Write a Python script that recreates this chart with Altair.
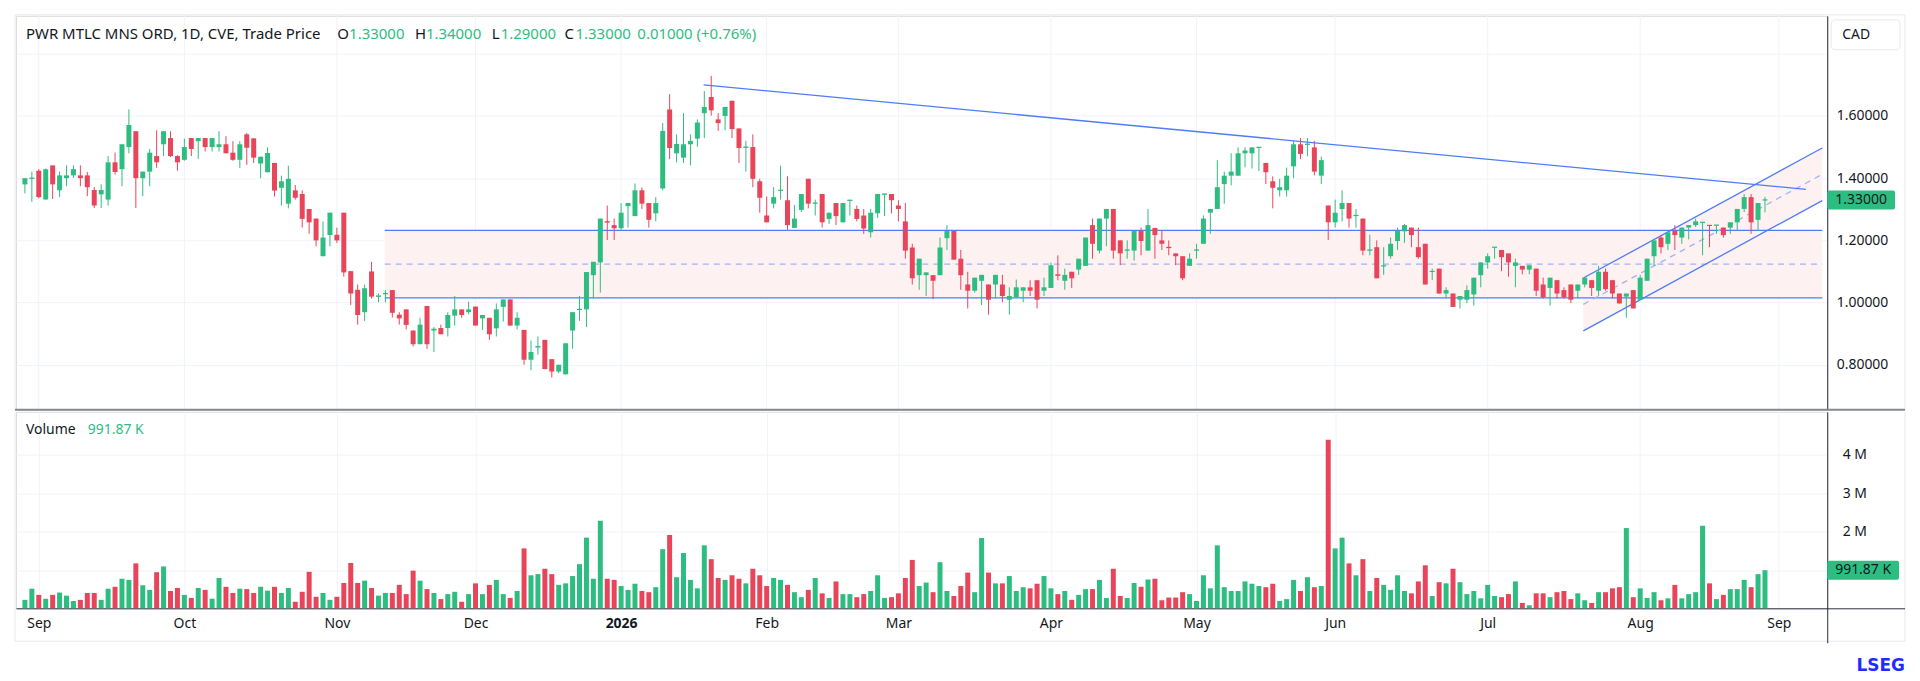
import altair as alt
import pandas as pd

# ---------------- data ----------------
OPEN = [1.38, 1.398, 1.424, 1.331, 1.441, 1.361, 1.40, 1.409, 1.409, 1.409,
        1.362, 1.348, 1.331, 1.451, 1.429, 1.50, 1.551, 1.40, 1.421, 1.471,
        1.509, 1.529, 1.471, 1.459, 1.529, 1.519, 1.529, 1.50, 1.50, 1.509,
        1.482, 1.459, 1.541, 1.528, 1.447, 1.419, 1.449, 1.369, 1.318, 1.361,
        1.349, 1.301, 1.27, 1.149, 1.217, 1.218, 1.289, 1.101, 1.041, 0.969,
        1.10, 1.019, 1.027, 1.04, 0.961, 0.978, 0.91, 0.866, 0.989, 0.91,
        0.918, 0.918, 0.958, 0.978, 0.969, 0.987, 0.949, 0.951, 0.917, 0.986,
        1.01, 0.926, 0.912, 0.816, 0.856, 0.88, 0.818, 0.778, 0.769, 0.91,
        0.976, 0.978, 1.088, 1.129, 1.261, 1.249, 1.239, 1.31, 1.278, 1.361,
        1.32, 1.287, 1.367, 1.621, 1.48, 1.466, 1.509, 1.527, 1.609, 1.661,
        1.589, 1.60, 1.649, 1.56, 1.498, 1.50, 1.39, 1.28, 1.318, 1.36,
        1.329, 1.24, 1.298, 1.398, 1.319, 1.349, 1.269, 1.32, 1.258, 1.327,
        1.301, 1.28, 1.226, 1.287, 1.347, 1.349, 1.312, 1.261, 1.177, 1.088,
        1.088, 1.088, 1.088, 1.207, 1.23, 1.141, 1.058, 1.038, 1.07, 1.058,
        1.058, 1.058, 1.009, 1.017, 1.038, 1.049, 1.072, 1.038, 1.047, 1.09,
        1.07, 1.099, 1.106, 1.118, 1.249, 1.167, 1.27, 1.301, 1.20, 1.168,
        1.167, 1.23, 1.167, 1.24, 1.20, 1.179, 1.158, 1.149, 1.118, 1.168,
        1.189, 1.289, 1.301, 1.381, 1.408, 1.408, 1.48, 1.48, 1.498, 1.449,
        1.39, 1.361, 1.361, 1.438, 1.509, 1.508, 1.499, 1.408, 1.312, 1.258,
        1.301, 1.32, 1.279, 1.27, 1.168, 1.178, 1.117, 1.149, 1.198, 1.229,
        1.241, 1.178, 1.189, 1.099, 1.109, 1.029, 1.029, 1.009, 1.009, 1.026,
        1.088, 1.129, 1.177, 1.169, 1.158, 1.118, 1.118, 1.106, 1.109, 1.058,
        1.047, 1.072, 1.04, 1.058, 1.038, 1.058, 1.072, 1.038, 1.099, 1.072,
        1.029, 1.019, 1.04, 1.009, 1.07, 1.149, 1.209, 1.189, 1.23, 1.209,
        1.241, 1.249, 1.257, 1.249, 1.248, 1.241, 1.241, 1.258, 1.301, 1.339,
        1.266, 1.33]

HIGH = [1.40, 1.421, 1.429, 1.431, 1.441, 1.421, 1.441, 1.441, 1.441, 1.42,
        1.371, 1.38, 1.471, 1.482, 1.509, 1.621, 1.551, 1.421, 1.494, 1.554,
        1.551, 1.551, 1.474, 1.527, 1.529, 1.529, 1.529, 1.529, 1.551, 1.535,
        1.519, 1.519, 1.545, 1.528, 1.469, 1.499, 1.449, 1.408, 1.44, 1.378,
        1.361, 1.301, 1.27, 1.261, 1.289, 1.241, 1.289, 1.101, 1.058, 1.058,
        1.131, 1.029, 1.04, 1.04, 0.969, 0.978, 0.91, 0.951, 0.989, 0.921,
        0.929, 0.969, 1.021, 0.978, 1.003, 0.987, 0.96, 0.951, 0.997, 1.01,
        1.01, 0.969, 0.912, 0.878, 0.891, 0.88, 0.818, 0.80, 0.869, 0.969,
        1.021, 1.098, 1.131, 1.27, 1.312, 1.27, 1.32, 1.32, 1.383, 1.37,
        1.32, 1.339, 1.577, 1.67, 1.541, 1.609, 1.541, 1.589, 1.68, 1.729,
        1.609, 1.629, 1.649, 1.56, 1.52, 1.541, 1.398, 1.341, 1.371, 1.44,
        1.406, 1.314, 1.349, 1.398, 1.331, 1.349, 1.289, 1.32, 1.32, 1.329,
        1.312, 1.301, 1.301, 1.349, 1.349, 1.349, 1.329, 1.32, 1.189, 1.141,
        1.097, 1.088, 1.209, 1.249, 1.23, 1.169, 1.099, 1.08, 1.089, 1.058,
        1.089, 1.089, 1.049, 1.074, 1.049, 1.072, 1.072, 1.08, 1.129, 1.152,
        1.109, 1.099, 1.141, 1.209, 1.27, 1.27, 1.301, 1.301, 1.20, 1.20,
        1.23, 1.241, 1.301, 1.24, 1.232, 1.20, 1.158, 1.149, 1.158, 1.189,
        1.28, 1.301, 1.458, 1.421, 1.48, 1.499, 1.499, 1.499, 1.499, 1.449,
        1.406, 1.398, 1.434, 1.52, 1.529, 1.529, 1.52, 1.469, 1.312, 1.331,
        1.361, 1.32, 1.301, 1.27, 1.218, 1.20, 1.178, 1.209, 1.241, 1.253,
        1.241, 1.241, 1.189, 1.109, 1.109, 1.049, 1.029, 1.021, 1.055, 1.08,
        1.129, 1.158, 1.178, 1.169, 1.158, 1.141, 1.118, 1.12, 1.109, 1.08,
        1.08, 1.072, 1.049, 1.058, 1.058, 1.08, 1.072, 1.118, 1.109, 1.072,
        1.029, 1.029, 1.04, 1.089, 1.141, 1.20, 1.218, 1.226, 1.249, 1.241,
        1.249, 1.27, 1.258, 1.249, 1.249, 1.241, 1.258, 1.301, 1.349, 1.349,
        1.32, 1.34]

LOW = [1.351, 1.324, 1.335, 1.331, 1.333, 1.339, 1.374, 1.401, 1.374, 1.342,
       1.304, 1.304, 1.312, 1.412, 1.374, 1.48, 1.304, 1.342, 1.374, 1.433,
       1.471, 1.468, 1.424, 1.456, 1.471, 1.462, 1.486, 1.486, 1.486, 1.48,
       1.456, 1.433, 1.443, 1.449, 1.40, 1.419, 1.341, 1.312, 1.303, 1.331,
       1.241, 1.221, 1.181, 1.149, 1.181, 1.192, 1.083, 0.992, 0.929, 0.941,
       1.013, 1.001, 1.001, 0.952, 0.929, 0.914, 0.859, 0.866, 0.851, 0.841,
       0.898, 0.891, 0.926, 0.951, 0.962, 0.926, 0.912, 0.88, 0.891, 0.939,
       0.926, 0.914, 0.80, 0.782, 0.832, 0.786, 0.759, 0.773, 0.769, 0.851,
       0.941, 0.921, 1.013, 1.032, 1.201, 1.201, 1.232, 1.241, 1.278, 1.301,
       1.241, 1.261, 1.361, 1.461, 1.451, 1.449, 1.441, 1.501, 1.529, 1.601,
       1.552, 1.554, 1.529, 1.449, 1.421, 1.371, 1.289, 1.258, 1.303, 1.331,
       1.234, 1.24, 1.291, 1.303, 1.28, 1.241, 1.253, 1.249, 1.258, 1.28,
       1.261, 1.221, 1.209, 1.272, 1.278, 1.287, 1.261, 1.141, 1.058, 1.041,
       1.021, 1.011, 1.088, 1.169, 1.138, 1.041, 0.981, 1.032, 0.992, 0.961,
       1.013, 1.001, 0.961, 1.017, 1.001, 1.021, 0.981, 1.021, 1.047, 1.072,
       1.041, 1.047, 1.089, 1.118, 1.141, 1.158, 1.181, 1.141, 1.12, 1.141,
       1.135, 1.152, 1.167, 1.141, 1.169, 1.152, 1.12, 1.072, 1.118, 1.141,
       1.189, 1.221, 1.301, 1.318, 1.377, 1.408, 1.435, 1.431, 1.423, 1.381,
       1.303, 1.341, 1.341, 1.40, 1.461, 1.47, 1.409, 1.381, 1.201, 1.241,
       1.261, 1.241, 1.241, 1.152, 1.152, 1.078, 1.089, 1.141, 1.169, 1.192,
       1.178, 1.141, 1.058, 1.072, 1.029, 1.013, 0.986, 0.981, 0.998, 0.99,
       1.049, 1.109, 1.141, 1.101, 1.083, 1.049, 1.091, 1.091, 1.021, 1.013,
       0.99, 1.013, 1.013, 0.998, 1.013, 1.049, 1.021, 1.021, 1.038, 1.013,
       0.997, 0.951, 0.981, 1.009, 1.07, 1.118, 1.158, 1.169, 1.169, 1.189,
       1.203, 1.243, 1.152, 1.178, 1.221, 1.209, 1.221, 1.23, 1.291, 1.221,
       1.23, 1.29]

CLOSE = [1.40, 1.40, 1.339, 1.429, 1.38, 1.409, 1.409, 1.429, 1.40, 1.371,
         1.312, 1.362, 1.451, 1.42, 1.509, 1.571, 1.40, 1.421, 1.482, 1.451,
         1.551, 1.471, 1.451, 1.50, 1.494, 1.529, 1.50, 1.529, 1.509, 1.48,
         1.459, 1.509, 1.498, 1.466, 1.469, 1.481, 1.36, 1.39, 1.398, 1.337,
         1.269, 1.258, 1.20, 1.209, 1.289, 1.20, 1.097, 1.029, 0.96, 1.046,
         1.019, 1.021, 1.029, 0.967, 0.949, 0.928, 0.866, 0.929, 0.866, 0.914,
         0.898, 0.96, 0.978, 0.96, 0.978, 0.926, 0.96, 0.898, 0.978, 1.01,
         0.926, 0.951, 0.816, 0.841, 0.858, 0.786, 0.778, 0.80, 0.869, 0.969,
         0.978, 1.098, 1.131, 1.27, 1.259, 1.239, 1.289, 1.32, 1.361, 1.318,
         1.266, 1.32, 1.552, 1.497, 1.51, 1.509, 1.52, 1.579, 1.629, 1.618,
         1.577, 1.629, 1.558, 1.497, 1.50, 1.398, 1.337, 1.258, 1.339, 1.361,
         1.249, 1.27, 1.349, 1.318, 1.32, 1.258, 1.289, 1.278, 1.32, 1.329,
         1.269, 1.238, 1.289, 1.349, 1.349, 1.329, 1.301, 1.167, 1.078, 1.141,
         1.097, 1.07, 1.177, 1.23, 1.138, 1.088, 1.038, 1.08, 1.089, 1.009,
         1.089, 1.021, 1.021, 1.049, 1.049, 1.038, 1.009, 1.049, 1.12, 1.088,
         1.089, 1.078, 1.141, 1.209, 1.189, 1.27, 1.301, 1.167, 1.158, 1.169,
         1.23, 1.198, 1.249, 1.217, 1.189, 1.177, 1.149, 1.078, 1.141, 1.169,
         1.27, 1.301, 1.371, 1.408, 1.421, 1.48, 1.489, 1.499, 1.499, 1.419,
         1.369, 1.371, 1.408, 1.509, 1.478, 1.509, 1.421, 1.458, 1.258, 1.289,
         1.32, 1.27, 1.28, 1.167, 1.169, 1.078, 1.118, 1.189, 1.23, 1.249,
         1.217, 1.146, 1.058, 1.10, 1.029, 1.04, 0.986, 1.021, 1.04, 1.08,
         1.129, 1.149, 1.178, 1.146, 1.129, 1.129, 1.106, 1.12, 1.038, 1.017,
         1.08, 1.029, 1.017, 1.009, 1.058, 1.08, 1.047, 1.099, 1.043, 1.029,
         0.997, 1.029, 0.981, 1.08, 1.141, 1.20, 1.178, 1.226, 1.217, 1.241,
         1.249, 1.261, 1.258, 1.248, 1.249, 1.217, 1.258, 1.301, 1.339, 1.258,
         1.32, 1.33]

VOLUME_M = [0.22, 0.51, 0.35, 0.25, 0.35, 0.41, 0.33, 0.19, 0.22, 0.40,
            0.40, 0.22, 0.51, 0.56, 0.77, 0.74, 1.17, 0.60, 0.48, 0.94,
            1.09, 0.45, 0.53, 0.35, 0.27, 0.53, 0.48, 0.25, 0.79, 0.56,
            0.40, 0.51, 0.50, 0.40, 0.56, 0.46, 0.56, 0.40, 0.53, 0.17,
            0.43, 0.95, 0.30, 0.40, 0.22, 0.30, 0.66, 1.18, 0.66, 0.72,
            0.53, 0.33, 0.40, 0.40, 0.61, 0.37, 0.98, 0.72, 0.50, 0.40,
            0.24, 0.37, 0.43, 0.17, 0.37, 0.65, 0.37, 0.61, 0.74, 0.37,
            0.27, 0.45, 1.56, 0.86, 0.89, 1.03, 0.89, 0.61, 0.65, 0.84,
            1.15, 1.84, 0.77, 2.28, 0.77, 0.74, 0.58, 0.48, 0.64, 0.45,
            0.42, 0.55, 1.54, 1.91, 0.81, 1.44, 0.74, 0.52, 1.64, 1.28,
            0.79, 0.74, 0.86, 0.77, 0.65, 1.03, 0.86, 0.58, 0.79, 0.74,
            0.61, 0.42, 0.29, 0.48, 0.79, 0.39, 0.27, 0.70, 0.37, 0.37,
            0.29, 0.37, 0.45, 0.86, 0.27, 0.29, 0.39, 0.79, 1.26, 0.58,
            0.67, 0.42, 1.20, 0.45, 0.32, 0.58, 0.93, 0.42, 1.83, 0.93,
            0.65, 0.65, 0.84, 0.45, 0.55, 0.52, 0.64, 0.84, 0.52, 0.37,
            0.45, 0.22, 0.35, 0.50, 0.50, 0.74, 0.27, 1.03, 0.32, 0.27,
            0.66, 0.56, 0.75, 0.77, 0.21, 0.28, 0.28, 0.42, 0.37, 0.19,
            0.86, 0.52, 1.64, 0.55, 0.45, 0.45, 0.70, 0.64, 0.58, 0.55,
            0.64, 0.19, 0.24, 0.74, 0.45, 0.81, 0.55, 0.58, 4.39, 1.56,
            1.84, 1.17, 0.86, 1.28, 0.45, 0.79, 0.61, 0.48, 0.86, 0.45,
            0.39, 0.70, 1.12, 0.32, 0.68, 0.65, 1.03, 0.68, 0.37, 0.45,
            0.26, 0.61, 0.32, 0.29, 0.37, 0.70, 0.14, 0.08, 0.39, 0.39,
            0.29, 0.42, 0.45, 0.24, 0.39, 0.21, 0.14, 0.42, 0.42, 0.52,
            0.55, 2.09, 0.29, 0.52, 0.27, 0.42, 0.21, 0.26, 0.61, 0.26,
            0.37, 0.42, 2.15, 0.65, 0.24, 0.35, 0.50, 0.50, 0.74, 0.55,
            0.89, 0.99187]

# first trading bar of each month (bar number) and its label
MONTH_IDX = [3, 24, 46, 66, 87, 108, 127, 149, 170, 190, 212, 234, 254]
MONTH_LBL = ["Sep", "Oct", "Nov", "Dec", "2026", "Feb", "Mar", "Apr",
             "May", "Jun", "Jul", "Aug", "Sep"]

PRICE_TICKS = [0.8, 1.0, 1.2, 1.4, 1.6, 1.8]
VOL_TICKS = [1, 2, 3, 4]

# drawings (bar number, price)
RANGE_START = 52.9
RANGE_TOP = 1.232
RANGE_BOTTOM = 1.015
CH_X = [225.8, 260.26]
CH_UPPER = [1.079, 1.497]
CH_LOWER = [0.909, 1.328]
RES_X = [98.9, 257.9]
RES_Y = [1.70, 1.364]

X_DOMAIN = [0.43, 260.26]
P_DOMAIN = [0.655, 1.922]
V_DOMAIN = [0, 5.117]

# ---------------- styles ----------------
GREEN = "#2ebd80"
RED = "#e8455b"
BLUE = "#4d7cf6"
BLUE_DASH = "#9fb4f8"
FILL = "#fdf1f1"
GRID = "#f0f3fa"
TXT = "#131722"
AXIS = "#2a2e39"
BORDER = "#e6e8ec"
FONT = "Noto Sans"

W, HP, HV = 1816, 395, 197

df = pd.DataFrame({"i": list(range(1, len(CLOSE) + 1)), "o": OPEN, "h": HIGH,
                   "l": LOW, "c": CLOSE, "v": VOLUME_M})
df["dir"] = ["up" if c >= o else "down" for o, c in zip(OPEN, CLOSE)]
df["doji"] = [abs(c - o) < 0.006 for o, c in zip(OPEN, CLOSE)]
last = df.iloc[[-1]].copy()
last["ptxt"] = [f"{CLOSE[-1]:.5f}"]
last["vtxt"] = [f"{VOLUME_M[-1] * 1000:.2f} K"]

xs = alt.Scale(domain=X_DOMAIN, nice=False, zero=False)
ys = alt.Scale(domain=P_DOMAIN, nice=False, zero=False)
vs = alt.Scale(domain=V_DOMAIN, nice=False, zero=True)
col = alt.Color("dir:N", scale=alt.Scale(domain=["up", "down"], range=[GREEN, RED]), legend=None)

ya_p = alt.Axis(orient="right", values=PRICE_TICKS,
                labelExpr="datum.value > 1.7 ? '' : format(datum.value, '.5f')",
                grid=True, gridColor=GRID, domain=True, domainColor=AXIS, ticks=False,
                labelPadding=9, labelFontSize=14, labelColor=TXT, labelFont=FONT, title=None)

lbl_expr = " : ".join(f"datum.value == {v} ? '{t}'" for v, t in zip(MONTH_IDX, MONTH_LBL)) + " : ''"
xa_v = alt.Axis(values=MONTH_IDX, grid=True, gridColor=GRID, labelExpr=lbl_expr, ticks=False,
                domain=True, domainColor=AXIS, labelFontSize=14, labelColor=TXT, labelFont=FONT,
                labelPadding=8, labelFlush=False, labelOverlap=False, title=None,
                labelFontWeight={"condition": {"test": "datum.value == 87", "value": "bold"},
                                 "value": "normal"})
ya_v = alt.Axis(orient="right", values=VOL_TICKS,
                labelExpr="datum.value == 1 ? '' : datum.value + ' M'",
                grid=True, gridColor=GRID, domain=True, domainColor=AXIS, ticks=False,
                labelPadding=15, labelFontSize=14, labelColor=TXT, labelFont=FONT, title=None)


def PX(f):
    return alt.X(f, scale=xs, axis=None)


def PY(f):
    return alt.Y(f, scale=ys, axis=ya_p)


one = pd.DataFrame({"a": [0]})

# ---------------- price panel ----------------
vgrid = alt.Chart(pd.DataFrame({"m": MONTH_IDX})).mark_rule(color=GRID, strokeWidth=1).encode(
    x=PX("m:Q"), y=alt.value(0), y2=alt.value(HP))

box_df = pd.DataFrame({"x": [RANGE_START], "x2": [X_DOMAIN[1]], "y": [RANGE_BOTTOM], "y2": [RANGE_TOP]})
box = alt.Chart(box_df).mark_rect(color=FILL).encode(x=PX("x:Q"), x2="x2", y=PY("y:Q"), y2="y2")

hl_df = pd.DataFrame({"x": [RANGE_START, RANGE_START], "x2": [X_DOMAIN[1]] * 2,
                      "y": [RANGE_TOP, RANGE_BOTTOM]})
hlines = alt.Chart(hl_df).mark_rule(color=BLUE, strokeWidth=1.3).encode(x=PX("x:Q"), x2="x2", y=PY("y:Q"))
mid_df = pd.DataFrame({"x": [RANGE_START], "x2": [X_DOMAIN[1]], "y": [(RANGE_TOP + RANGE_BOTTOM) / 2]})
hmid = alt.Chart(mid_df).mark_rule(color=BLUE_DASH, strokeWidth=1.3, strokeDash=[6, 5]).encode(
    x=PX("x:Q"), x2="x2", y=PY("y:Q"))

ch_df = pd.DataFrame({"x": CH_X, "lo": CH_LOWER, "hi": CH_UPPER})
ch_df["mid"] = (ch_df["lo"] + ch_df["hi"]) / 2
ch_area = alt.Chart(ch_df).mark_area(color=FILL).encode(x=PX("x:Q"), y=PY("lo:Q"), y2="hi")
ch_hi = alt.Chart(ch_df).mark_line(color=BLUE, strokeWidth=1.3).encode(x=PX("x:Q"), y=PY("hi:Q"))
ch_lo = alt.Chart(ch_df).mark_line(color=BLUE, strokeWidth=1.3).encode(x=PX("x:Q"), y=PY("lo:Q"))
ch_mid = alt.Chart(ch_df).mark_line(color=BLUE_DASH, strokeWidth=1.3, strokeDash=[6, 5]).encode(
    x=PX("x:Q"), y=PY("mid:Q"))

res_df = pd.DataFrame({"x": RES_X, "y": RES_Y})
res = alt.Chart(res_df).mark_line(color=BLUE, strokeWidth=1.3).encode(x=PX("x:Q"), y=PY("y:Q"))

wick = alt.Chart(df).mark_rule(strokeWidth=1).encode(x=PX("i:Q"), y=PY("l:Q"), y2="h", color=col)
body = alt.Chart(df).mark_bar(size=5).encode(x=PX("i:Q"), y=PY("o:Q"), y2="c", color=col)
doji = alt.Chart(df).transform_filter("datum.doji").mark_rule(
    strokeWidth=1.2, xOffset=-2.5, x2Offset=2.5).encode(x=PX("i:Q"), x2="i", y=PY("c:Q"), color=col)

ptag = alt.Chart(last).mark_rect(color=GREEN, cornerRadius=2, yOffset=-9.5, y2Offset=9.5).encode(
    x=alt.value(W), x2=alt.value(W + 68), y=PY("c:Q"), y2="c")
ptag_t = alt.Chart(last).mark_text(font=FONT, fontSize=14, color=TXT, align="center",
                                   baseline="middle").encode(
    x=alt.value(W + 34), y=PY("c:Q"), text="ptxt:N")

# header
chg = CLOSE[-1] - CLOSE[-2]
pct = chg / CLOSE[-2] * 100
HEADER = [("PWR MTLC MNS ORD, 1D, CVE, Trade Price", 10, TXT),
          ("O", 322, TXT), (f"{OPEN[-1]:.5f}", 334, GREEN),
          ("H", 400, TXT), (f"{HIGH[-1]:.5f}", 411, GREEN),
          ("L", 477, TXT), (f"{LOW[-1]:.5f}", 486, GREEN),
          ("C", 550, TXT), (f"{CLOSE[-1]:.5f}", 561, GREEN),
          (f"{chg:.5f} ({pct:+.2f}%)", 623, GREEN)]
header = [alt.Chart(one).mark_text(text=t, font=FONT, fontSize=15, color=c, align="left",
                                   baseline="middle").encode(x=alt.value(px), y=alt.value(18))
          for t, px, c in HEADER]

cad_box = alt.Chart(one).mark_rect(fill="white", stroke=BORDER, strokeWidth=1, cornerRadius=4).encode(
    x=alt.value(W + 4), x2=alt.value(W + 73), y=alt.value(4), y2=alt.value(34))
cad_t = alt.Chart(one).mark_text(text="CAD", font=FONT, fontSize=14, color=TXT, align="left",
                                 baseline="middle").encode(x=alt.value(W + 15), y=alt.value(19))

# frame lines
p_top = alt.Chart(one).mark_rule(color=BORDER).encode(x=alt.value(-1), x2=alt.value(W + 78), y=alt.value(-1))
p_left = alt.Chart(one).mark_rule(color=BORDER).encode(x=alt.value(-1), y=alt.value(-1), y2=alt.value(HP))
p_right = alt.Chart(one).mark_rule(color=BORDER).encode(x=alt.value(W + 78), y=alt.value(-1), y2=alt.value(HP))
p_sep = alt.Chart(one).mark_rule(color="#85888f", strokeWidth=2).encode(
    x=alt.value(-1), x2=alt.value(W + 78), y=alt.value(HP))

price = alt.layer(vgrid, box, ch_area, hlines, hmid, ch_hi, ch_lo, ch_mid, res, wick, body, doji,
                  ptag, ptag_t, *header, cad_box, cad_t, p_top, p_left, p_right, p_sep
                  ).properties(width=W, height=HP)

# ---------------- volume panel ----------------
vbar = alt.Chart(df).mark_bar(size=5).encode(
    x=alt.X("i:Q", scale=xs, axis=xa_v), y=alt.Y("v:Q", scale=vs, axis=ya_v), color=col)
vtag = alt.Chart(last).mark_rect(color=GREEN, cornerRadius=2, yOffset=-9.5, y2Offset=9.5).encode(
    x=alt.value(W), x2=alt.value(W + 72), y=alt.Y("v:Q", scale=vs, axis=ya_v), y2="v")
vtag_t = alt.Chart(last).mark_text(font=FONT, fontSize=14, color=TXT, align="center",
                                   baseline="middle").encode(
    x=alt.value(W + 36), y=alt.Y("v:Q", scale=vs, axis=ya_v), text="vtxt:N")
vlab1 = alt.Chart(one).mark_text(text="Volume", font=FONT, fontSize=14, color=TXT, align="left",
                                 baseline="middle").encode(x=alt.value(10), y=alt.value(18))
vlab2 = alt.Chart(last).mark_text(font=FONT, fontSize=14, color=GREEN, align="left",
                                  baseline="middle").encode(x=alt.value(72), y=alt.value(18), text="vtxt:N")

v_left = alt.Chart(one).mark_rule(color=BORDER).encode(x=alt.value(-1), y=alt.value(0), y2=alt.value(230))
v_right = alt.Chart(one).mark_rule(color=BORDER).encode(x=alt.value(W + 78), y=alt.value(0), y2=alt.value(230))
v_bot = alt.Chart(one).mark_rule(color=BORDER).encode(x=alt.value(-1), x2=alt.value(W + 78), y=alt.value(230))
v_axis_ext = alt.Chart(one).mark_rule(color=AXIS).encode(x=alt.value(W + 0.5), y=alt.value(HV), y2=alt.value(232))
v_base_ext = alt.Chart(one).mark_rule(color=AXIS).encode(x=alt.value(W), x2=alt.value(W + 78), y=alt.value(HV + 0.5))
lseg = alt.Chart(one).mark_text(text="LSEG", font="DejaVu Sans", fontSize=17, fontWeight="bold",
                                color="#1f2bff", align="right", baseline="middle").encode(
    x=alt.value(W + 78), y=alt.value(255))

volume = alt.layer(vbar, vtag, vtag_t, vlab1, vlab2, v_left, v_right, v_bot, v_axis_ext,
                   v_base_ext, lseg).properties(width=W, height=HV)

chart = alt.vconcat(price, volume, spacing=-3).properties(
    padding={"left": 5, "top": 5, "right": 5, "bottom": 0}, background="white"
).configure_view(stroke=None).configure(font=FONT)

chart.save("out.html", embed_options={"renderer": "svg", "actions": False})
